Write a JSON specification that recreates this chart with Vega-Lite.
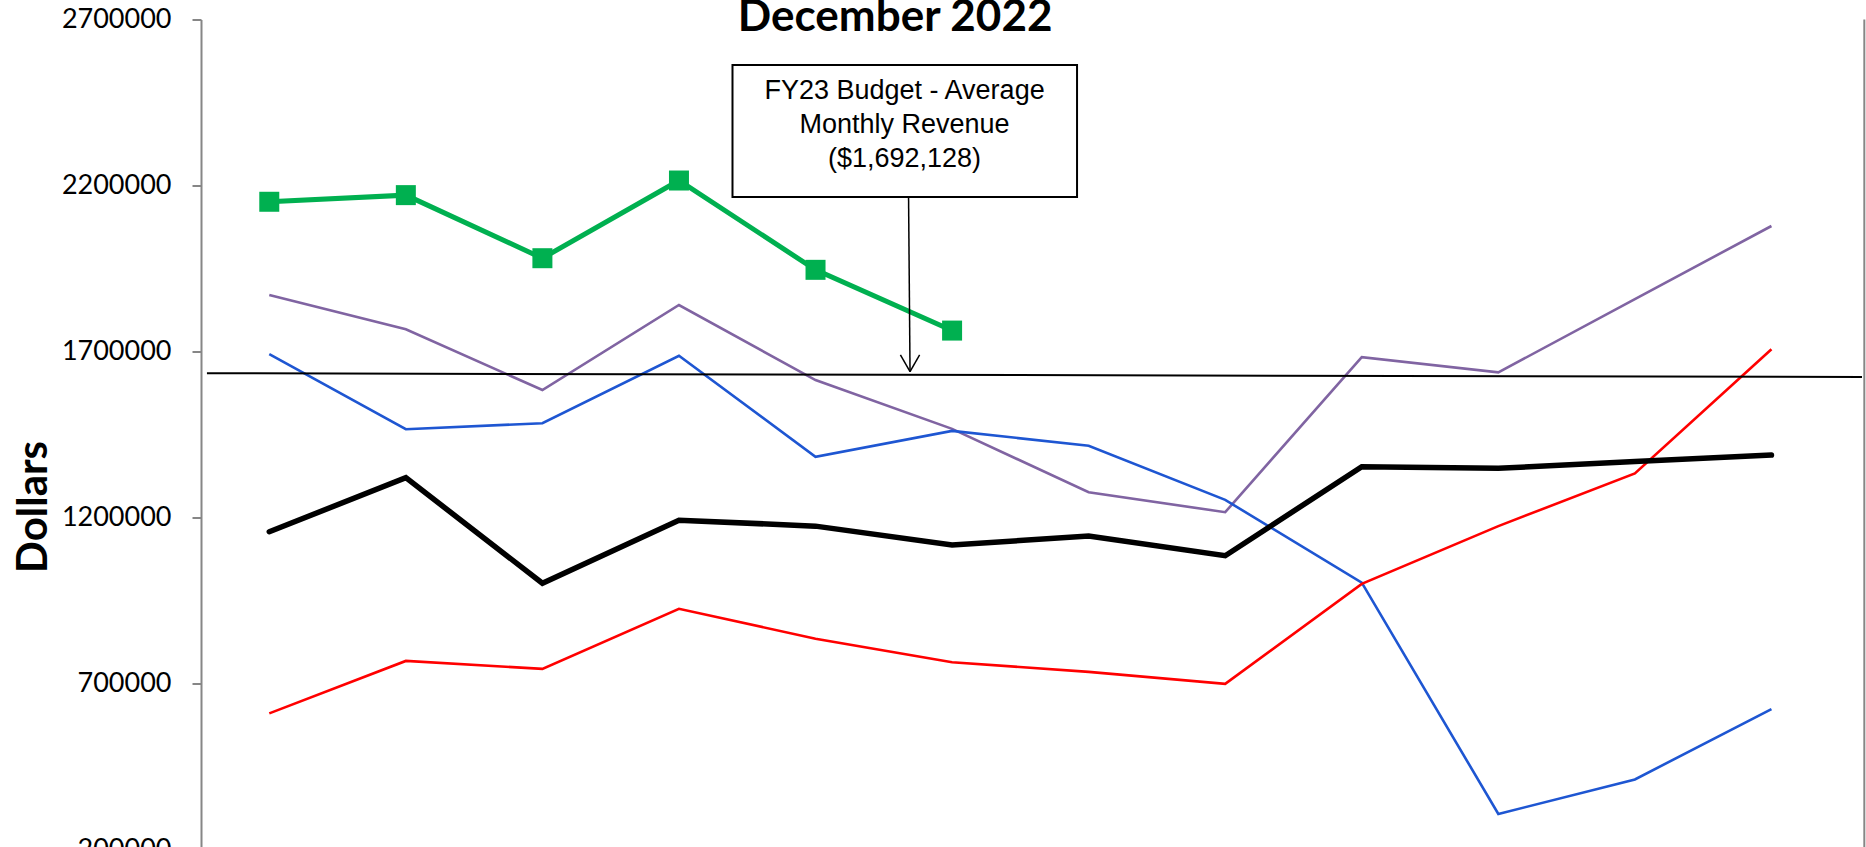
{
  "$schema": "https://vega.github.io/schema/vega-lite/v6.json",
  "width": 1664,
  "height": 830,
  "autosize": {"type": "none"},
  "padding": {"left": 201, "top": 19.5, "right": 1, "bottom": 0},
  "background": "white",
  "config": {"view": {"stroke": null}, "font": "Lato"},
  "datasets": {
    "revenue": [
      {"m": 1, "series": "FY19", "value": 1870000}, {"m": 2, "series": "FY19", "value": 1767000}, {"m": 3, "series": "FY19", "value": 1584000}, {"m": 4, "series": "FY19", "value": 1840000}, {"m": 5, "series": "FY19", "value": 1614000}, {"m": 6, "series": "FY19", "value": 1467000}, {"m": 7, "series": "FY19", "value": 1276000}, {"m": 8, "series": "FY19", "value": 1216000}, {"m": 9, "series": "FY19", "value": 1683000}, {"m": 10, "series": "FY19", "value": 1637000}, {"m": 11, "series": "FY19", "value": 1858000}, {"m": 12, "series": "FY19", "value": 2078000},
      {"m": 1, "series": "FY20", "value": 1692000}, {"m": 2, "series": "FY20", "value": 1466000}, {"m": 3, "series": "FY20", "value": 1484000}, {"m": 4, "series": "FY20", "value": 1687000}, {"m": 5, "series": "FY20", "value": 1383000}, {"m": 6, "series": "FY20", "value": 1461000}, {"m": 7, "series": "FY20", "value": 1416000}, {"m": 8, "series": "FY20", "value": 1253000}, {"m": 9, "series": "FY20", "value": 1004000}, {"m": 10, "series": "FY20", "value": 307000}, {"m": 11, "series": "FY20", "value": 411000}, {"m": 12, "series": "FY20", "value": 623000},
      {"m": 1, "series": "FY21", "value": 610000}, {"m": 2, "series": "FY21", "value": 768000}, {"m": 3, "series": "FY21", "value": 744000}, {"m": 4, "series": "FY21", "value": 925000}, {"m": 5, "series": "FY21", "value": 835000}, {"m": 6, "series": "FY21", "value": 764000}, {"m": 7, "series": "FY21", "value": 735000}, {"m": 8, "series": "FY21", "value": 699000}, {"m": 9, "series": "FY21", "value": 1000000}, {"m": 10, "series": "FY21", "value": 1174000}, {"m": 11, "series": "FY21", "value": 1333000}, {"m": 12, "series": "FY21", "value": 1707000}
    ],
    "average": [
      {"m": 1, "series": "FY22", "value": 1157000}, {"m": 2, "series": "FY22", "value": 1320000}, {"m": 3, "series": "FY22", "value": 1002000}, {"m": 4, "series": "FY22", "value": 1192000}, {"m": 5, "series": "FY22", "value": 1174000}, {"m": 6, "series": "FY22", "value": 1117000}, {"m": 7, "series": "FY22", "value": 1144000}, {"m": 8, "series": "FY22", "value": 1085000}, {"m": 9, "series": "FY22", "value": 1353000}, {"m": 10, "series": "FY22", "value": 1348000}, {"m": 11, "series": "FY22", "value": 1369000}, {"m": 12, "series": "FY22", "value": 1388000}
    ],
    "current": [
      {"m": 1, "series": "FY23", "value": 2151000}, {"m": 2, "series": "FY23", "value": 2171000}, {"m": 3, "series": "FY23", "value": 1981000}, {"m": 4, "series": "FY23", "value": 2215000}, {"m": 5, "series": "FY23", "value": 1946000}, {"m": 6, "series": "FY23", "value": 1763000}
    ],
    "budget": [{"m": 0.5436, "value": 1634656, "m2": 12.663, "value2": 1623210}],
    "border": [{"m": 12.68, "value": 200000, "m2": 12.68, "value2": 2700000}],
    "box": [{"m": 4.392, "value": 2562954, "m2": 6.915, "value2": 2165370}],
    "arrow": [
      {"m": 5.6813, "value": 2165370, "m2": 5.692, "value2": 1639174},
      {"m": 5.6217, "value": 1689474, "m2": 5.692, "value2": 1639174},
      {"m": 5.7623, "value": 1689474, "m2": 5.692, "value2": 1639174}
    ],
    "note": [{"m": 5.652, "value": 2484642, "t": "FY23 Budget - Average\nMonthly Revenue\n($1,692,128)"}],
    "title": [{"m": 5.583, "value": 2665362, "t": "December 2022"}]
  },
  "encoding": {
    "x": {"field": "m", "type": "quantitative", "scale": {"domain": [0.5, 12.685], "nice": false, "zero": false}, "axis": null},
    "y": {
      "field": "value", "type": "quantitative",
      "scale": {"domain": [200000, 2700000], "nice": false, "zero": false},
      "axis": {
        "values": [200000, 700000, 1200000, 1700000, 2200000, 2700000],
        "format": "d", "grid": false,
        "labelFont": "Lato", "labelFontSize": 27, "labelColor": "black",
        "labelPadding": 21, "labelFlush": false, "labelOverlap": false, "labelBound": false,
        "domainColor": "#868686", "domainWidth": 2,
        "tickColor": "#868686", "tickWidth": 2, "tickSize": 9,
        "title": "Dollars", "titleFont": "Lato", "titleFontSize": 42, "titleFontWeight": "bold", "titleColor": "black",
        "titleAngle": -90, "titleX": -155, "titleY": 487, "titleAlign": "center", "titleBaseline": "alphabetic"
      }
    }
  },
  "layer": [
    {
      "data": {"name": "revenue"},
      "mark": {"type": "line", "strokeWidth": 2.6, "strokeJoin": "miter"},
      "encoding": {
        "color": {"field": "series", "type": "nominal", "scale": {"domain": ["FY19", "FY20", "FY21"], "range": ["#8064A2", "#1E56D2", "#FF0000"]}, "legend": null}
      }
    },
    {
      "data": {"name": "average"},
      "mark": {"type": "line", "color": "black", "strokeWidth": 5.5, "strokeCap": "round", "strokeJoin": "miter"},
      "encoding": {}
    },
    {
      "data": {"name": "budget"},
      "mark": {"type": "rule", "color": "black", "strokeWidth": 2},
      "encoding": {"x2": {"field": "m2"}, "y2": {"field": "value2"}}
    },
    {
      "data": {"name": "border"},
      "mark": {"type": "rule", "color": "#868686", "strokeWidth": 2},
      "encoding": {"x2": {"field": "m2"}, "y2": {"field": "value2"}}
    },
    {
      "data": {"name": "current"},
      "mark": {"type": "line", "color": "#00B050", "strokeWidth": 5},
      "encoding": {}
    },
    {
      "data": {"name": "current"},
      "mark": {"type": "point", "shape": "square", "filled": true, "size": 400, "color": "#00B050", "opacity": 1},
      "encoding": {}
    },
    {
      "data": {"name": "box"},
      "mark": {"type": "rect", "fill": "white", "stroke": "black", "strokeWidth": 2},
      "encoding": {"x2": {"field": "m2"}, "y2": {"field": "value2"}}
    },
    {
      "data": {"name": "arrow"},
      "mark": {"type": "rule", "color": "black", "strokeWidth": 1.5},
      "encoding": {"x2": {"field": "m2"}, "y2": {"field": "value2"}}
    },
    {
      "data": {"name": "note"},
      "mark": {"type": "text", "font": "Liberation Sans", "fontSize": 27, "lineHeight": 34, "lineBreak": "\n", "align": "center", "baseline": "middle", "color": "black"},
      "encoding": {"text": {"field": "t", "type": "nominal"}}
    },
    {
      "data": {"name": "title"},
      "mark": {"type": "text", "font": "Lato", "fontSize": 44, "fontWeight": "bold", "align": "center", "baseline": "alphabetic", "color": "black"},
      "encoding": {"text": {"field": "t", "type": "nominal"}}
    }
  ]
}
